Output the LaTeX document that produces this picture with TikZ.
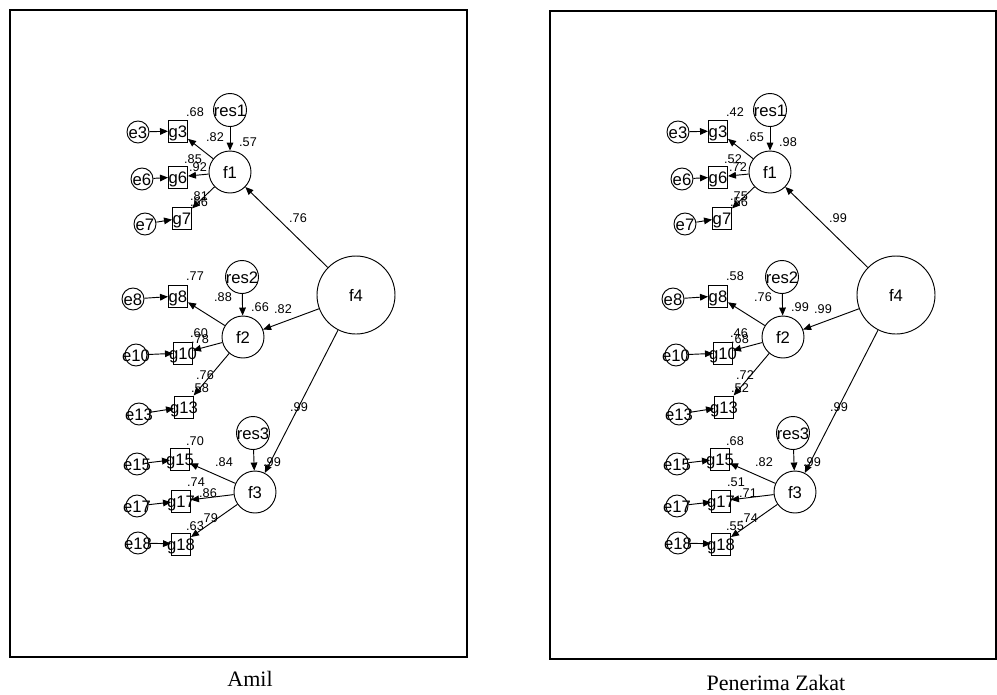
\documentclass[tikz,border=0pt]{standalone}
\usepackage{fontspec}
\setmainfont{Liberation Serif}
\setsansfont{Liberation Sans}
\usetikzlibrary{arrows.meta}

\newcommand\ztxt[1]{\makebox[0pt]{#1}}

\tikzset{
  nodefont/.style={font=\sffamily\fontsize{12.5}{12.5}\selectfont,text height=9pt,text depth=0pt},
  errc/.style={circle,draw,line width=0.7pt,inner sep=0pt,minimum size=16.5pt,nodefont},
  resc/.style={circle,draw,line width=0.7pt,inner sep=0pt,minimum size=24.75pt,nodefont},
  fac/.style={circle,draw,line width=0.7pt,inner sep=0pt,minimum size=31.5pt,nodefont},
  bigfac/.style={circle,draw,line width=0.7pt,inner sep=0pt,minimum size=58.5pt,nodefont},
  ind/.style={rectangle,draw,line width=0.7pt,inner sep=0pt,minimum width=14.25pt,minimum height=16.5pt,nodefont},
  lbl/.style={font=\sffamily\fontsize{9.5}{9.5}\selectfont,inner sep=0pt},
  conn/.style={draw,line width=0.7pt,-{Triangle[length=6pt,width=5pt]}},
  frame/.style={draw,line width=1.5pt},
  capt/.style={font=\fontsize{16.5}{18}\selectfont,inner sep=0pt}
}

\newcommand\semdiag[1]{%
  \node[resc] (#1res1) at (230,110) {\ztxt{res1}};
  \node[fac] (#1f1) at (230,172) {\ztxt{f1}};
  \node[errc] (#1e3) at (138,132) {\ztxt{e3}};
  \node[ind] (#1g3) at (178,131) {\ztxt{g3}};
  \node[errc] (#1e6) at (142,179) {\ztxt{e6}};
  \node[ind] (#1g6) at (178,177) {\ztxt{g6}};
  \node[errc] (#1e7) at (145,224) {\ztxt{e7}};
  \node[ind] (#1g7) at (182,218) {\ztxt{g7}};
  \node[resc] (#1res2) at (242,277) {\ztxt{res2}};
  \node[fac] (#1f2) at (243,337) {\ztxt{f2}};
  \node[errc] (#1e8) at (133,299) {\ztxt{e8}};
  \node[ind] (#1g8) at (178,296) {\ztxt{g8}};
  \node[errc] (#1e10) at (136,355) {\ztxt{e10}};
  \node[ind] (#1g10) at (183,353) {\ztxt{g10}};
  \node[errc] (#1e13) at (139,414) {\ztxt{e13}};
  \node[ind] (#1g13) at (184,407) {\ztxt{g13}};
  \node[resc] (#1res3) at (253,433) {\ztxt{res3}};
  \node[fac] (#1f3) at (255,492) {\ztxt{f3}};
  \node[errc] (#1e15) at (137,464) {\ztxt{e15}};
  \node[ind] (#1g15) at (180,459) {\ztxt{g15}};
  \node[errc] (#1e17) at (137,506) {\ztxt{e17}};
  \node[ind] (#1g17) at (181,501) {\ztxt{g17}};
  \node[errc] (#1e18) at (138,543) {\ztxt{e18}};
  \node[ind] (#1g18) at (181,544) {\ztxt{g18}};
  \node[bigfac] (#1f4) at (356,295) {\ztxt{f4}};
  \foreach \a/\b in {res1/f1,e3/g3,e6/g6,e7/g7,f1/g3,f1/g6,f1/g7,
                     res2/f2,e8/g8,e10/g10,e13/g13,f2/g8,f2/g10,f2/g13,
                     res3/f3,e15/g15,e17/g17,e18/g18,f3/g15,f3/g17,f3/g18,
                     f4/f1,f4/f2,f4/f3}
    {\draw[conn] (#1\a) -- (#1\b);}
}

\begin{document}
\begin{tikzpicture}[x=0.75pt,y=-0.75pt]
\useasboundingbox (0,0) rectangle (997,694);
\draw[frame] (9.5,9.5) rectangle (467,656.5);
\draw[frame] (549.5,10.5) rectangle (996,658.5);
\node[capt] (capL) at (250,679) {Amil};
\node[capt] (capR) at (776,683) {Penerima Zakat};

\begin{scope}
  \semdiag{L}
  \foreach \nm/\xx/\yy/\lv in {
    a/195/112/.68, b/215/137/.82, c/248/142/.57, d/193/159/.85, e/198/167/.92,
    f/199/196/.81, g/199/202/.66, h/298/218/.76,
    i/195/276/.77, j/223/297/.88, k/260/307/.66, l/283/309/.82,
    m/199/333/.60, n/200/339/.78, o/205/375/.76, p/200/388/.58,
    q/195/441/.70, r/224/462/.84, s/272/462/.99, t/196/482/.74,
    u/208/493/.86, v/195/526/.63, w/209/518/.79, x/299/407/.99}
    {\node[lbl] (Llab\nm) at (\xx,\yy) {\lv};}
\end{scope}

\begin{scope}[shift={(540,0)}]
  \semdiag{R}
  \foreach \nm/\xx/\yy/\lv in {
    a/195/112/.42, b/215/137/.65, c/248/142/.98, d/193/159/.52, e/198/167/.72,
    f/199/196/.75, g/199/202/.56, h/298/218/.99,
    i/195/276/.58, j/223/297/.76, k/260/307/.99, l/283/309/.99,
    m/199/333/.46, n/200/339/.68, o/205/375/.72, p/200/388/.52,
    q/195/441/.68, r/224/462/.82, s/272/462/.99, t/196/482/.51,
    u/208/493/.71, v/195/526/.55, w/209/518/.74, x/299/407/.99}
    {\node[lbl] (Rlab\nm) at (\xx,\yy) {\lv};}
\end{scope}
\end{tikzpicture}
\end{document}
